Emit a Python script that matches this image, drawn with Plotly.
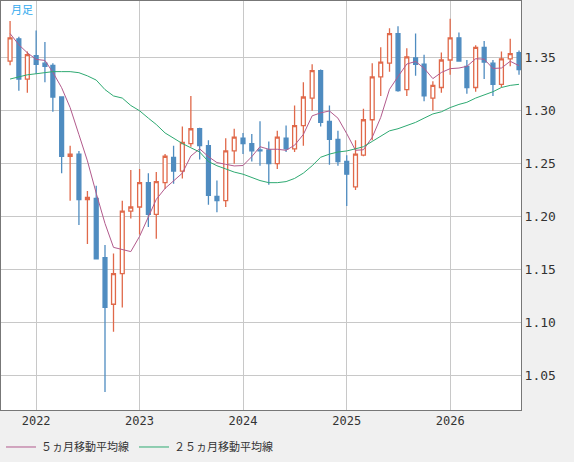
import plotly.graph_objects as go
import pandas as pd

months = pd.date_range('2021-10-01', periods=60, freq='MS')

opens = [1.347, 1.368, 1.330, 1.352, 1.345, 1.343, 1.313, 1.257, 1.259, 1.216,
         1.217, 1.161, 1.117, 1.146, 1.205, 1.209, 1.232, 1.202, 1.232, 1.256,
         1.243, 1.269, 1.283, 1.267, 1.219, 1.215, 1.262, 1.274, 1.269, 1.263,
         1.263, 1.250, 1.274, 1.264, 1.286, 1.312, 1.338, 1.290, 1.273, 1.252,
         1.228, 1.258, 1.2915, 1.332, 1.345, 1.373, 1.320, 1.350, 1.344, 1.312,
         1.322, 1.348, 1.369, 1.342, 1.322, 1.360, 1.345, 1.325, 1.349, 1.355]
highs = [1.385, 1.370, 1.356, 1.376, 1.365, 1.345, 1.313, 1.267, 1.262, 1.224,
         1.229, 1.173, 1.165, 1.215, 1.244, 1.245, 1.241, 1.242, 1.259, 1.267,
         1.285, 1.314, 1.284, 1.272, 1.234, 1.274, 1.283, 1.279, 1.278, 1.290,
         1.271, 1.281, 1.286, 1.305, 1.327, 1.344, 1.339, 1.305, 1.281, 1.258,
         1.272, 1.302, 1.345, 1.360, 1.378, 1.380, 1.359, 1.373, 1.353, 1.328,
         1.355, 1.387, 1.374, 1.348, 1.362, 1.366, 1.348, 1.356, 1.368, 1.357]
lows = [1.343, 1.319, 1.317, 1.335, 1.327, 1.299, 1.241, 1.215, 1.192, 1.174,
        1.160, 1.034, 1.091, 1.114, 1.198, 1.183, 1.190, 1.179, 1.226, 1.231,
        1.236, 1.266, 1.254, 1.211, 1.204, 1.209, 1.250, 1.259, 1.252, 1.248,
        1.230, 1.245, 1.261, 1.261, 1.267, 1.300, 1.285, 1.249, 1.248, 1.210,
        1.225, 1.257, 1.272, 1.314, 1.337, 1.318, 1.314, 1.333, 1.309, 1.300,
        1.317, 1.334, 1.347, 1.316, 1.318, 1.330, 1.314, 1.322, 1.342, 1.334]
closes = [1.369, 1.330, 1.353, 1.344, 1.342, 1.313, 1.257, 1.259, 1.216, 1.218,
          1.160, 1.114, 1.146, 1.205, 1.209, 1.232, 1.202, 1.233, 1.257, 1.243,
          1.270, 1.283, 1.267, 1.220, 1.215, 1.262, 1.275, 1.269, 1.262, 1.262,
          1.250, 1.275, 1.264, 1.286, 1.313, 1.338, 1.289, 1.273, 1.252, 1.240,
          1.259, 1.2915, 1.332, 1.346, 1.373, 1.319, 1.351, 1.344, 1.314, 1.324,
          1.348, 1.369, 1.347, 1.322, 1.360, 1.346, 1.325, 1.349, 1.354, 1.339]
# closes of the four months before the first candle (for the 5-month average)
prior_closes = [1.383, 1.391, 1.375, 1.347]

ma25 = [1.330, 1.332, 1.334, 1.335, 1.336, 1.337, 1.337, 1.337, 1.336, 1.333,
        1.329, 1.320, 1.314, 1.312, 1.305, 1.300, 1.293, 1.287, 1.279, 1.274,
        1.269, 1.265, 1.261, 1.252, 1.248, 1.245, 1.242, 1.240, 1.237, 1.234,
        1.232, 1.232, 1.233, 1.236, 1.241, 1.248, 1.256, 1.259, 1.261, 1.262,
        1.264, 1.266, 1.271, 1.276, 1.281, 1.283, 1.286, 1.289, 1.293, 1.297,
        1.299, 1.303, 1.306, 1.308, 1.312, 1.315, 1.318, 1.322, 1.324, 1.325]

year_ticks = ['2022-01-01', '2023-01-01', '2024-01-01', '2025-01-01', '2026-01-01']
year_labels = ['2022', '2023', '2024', '2025', '2026']
price_ticks = [1.05, 1.10, 1.15, 1.20, 1.25, 1.30, 1.35]

all_closes = pd.Series(prior_closes + closes)
ma5 = all_closes.rolling(5).mean().iloc[len(prior_closes):].tolist()

fig = go.Figure()
fig.add_trace(go.Candlestick(
    x=months, open=opens, high=highs, low=lows, close=closes,
    increasing={'line': {'color': '#e0694a', 'width': 1.3}, 'fillcolor': 'white'},
    decreasing={'line': {'color': '#4f8cc0', 'width': 1.3}, 'fillcolor': '#4f8cc0'},
    whiskerwidth=0, showlegend=False, hoverinfo='skip'
))
fig.add_trace(go.Scatter(
    x=months, y=ma5, mode='lines', name='５ヵ月移動平均線',
    line={'color': '#b25a8c', 'width': 1}
))
fig.add_trace(go.Scatter(
    x=months, y=ma25, mode='lines', name='２５ヵ月移動平均線',
    line={'color': '#2eaa72', 'width': 1}
))

fig.add_annotation(
    text='月足', xref='paper', yref='paper', x=0.015, y=0.998,
    xanchor='left', yanchor='top', showarrow=False,
    font={'color': '#33aaee', 'size': 11}
)

fig.update_layout(
    width=574, height=462,
    margin={'l': 1, 'r': 53, 't': 1, 'b': 52, 'pad': 0, 'autoexpand': False},
    paper_bgcolor='#f0f0f0', plot_bgcolor='white',
    font={'family': 'DejaVu Sans Mono, Noto Sans CJK JP', 'size': 12, 'color': '#333333'},
    legend={
        'orientation': 'h', 'x': 0.0, 'y': -0.055, 'xanchor': 'left', 'yanchor': 'top',
        'bgcolor': 'rgba(0,0,0,0)', 'font': {'size': 11, 'family': 'Noto Sans CJK JP'}
    },
    xaxis={
        'range': ['2021-08-30', '2026-09-08'], 'rangeslider': {'visible': False},
        'tickvals': year_ticks, 'ticktext': year_labels, 'showgrid': True,
        'gridcolor': '#c8c8c8', 'ticks': '', 'showline': True, 'linecolor': '#777777',
        'mirror': True, 'tickfont': {'size': 12}
    },
    yaxis={
        'side': 'right', 'range': [1.017, 1.4038], 'tickvals': price_ticks,
        'tickformat': '.2f', 'showgrid': True, 'gridcolor': '#c8c8c8', 'ticks': '',
        'showline': True, 'linecolor': '#777777', 'mirror': True, 'zeroline': False,
        'tickfont': {'size': 13}
    },
)

# drop the default page margin so the figure sits at the window's corner
fig.write_html("out.html", config={'displayModeBar': False},
               post_script="document.body.style.margin='0';")
